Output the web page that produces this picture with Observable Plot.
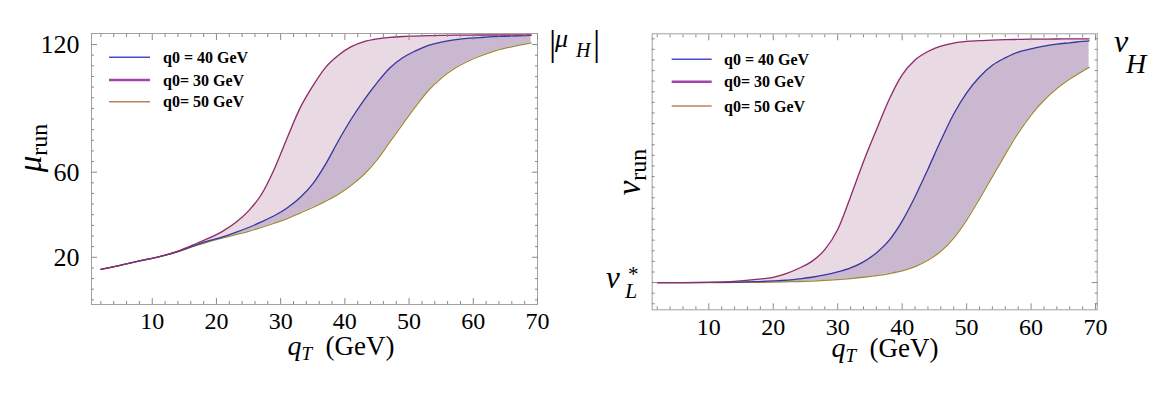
<!DOCTYPE html>
<html>
<head>
<meta charset="utf-8">
<script src="https://cdn.jsdelivr.net/npm/d3@7"></script>
<script src="https://cdn.jsdelivr.net/npm/@observablehq/plot@0.6"></script>
<style>
  body { margin: 0; background: #fff; }
  #wrap { position: relative; width: 1170px; height: 393px; overflow: hidden; }
  #wrap > svg { position: absolute; top: 0; }
  #wrap text { font-family: "Liberation Serif", "Times New Roman", Times, "DejaVu Serif", serif; }
</style>
</head>
<body>
<div id="wrap"></div>
<script>
// ---------- data ----------
// left panel: mu_run vs qT
const qLeft = [2, 5, 8, 11, 14, 17, 19, 21, 23, 25, 27, 29, 31, 33, 35, 37, 39, 41, 43, 45, 47, 49, 51, 53, 55, 57, 59, 61, 63, 65, 67, 69];
const mu30 = [14.3, 16.2, 18.3, 20.2, 22.9, 26.6, 29.2, 32.3, 36.3, 41.8, 49.5, 61.4, 76.0, 90.0, 100.5, 109.3, 115.0, 119.0, 121.4, 122.7, 123.4, 123.8, 124.0, 124.2, 124.3, 124.4, 124.45, 124.5, 124.5, 124.5, 124.5, 124.5];
const mu40 = [14.3, 16.2, 18.3, 20.2, 22.7, 26.0, 27.9, 29.6, 31.7, 34.0, 36.6, 39.5, 43.2, 48.0, 54.5, 63.8, 74.8, 85.0, 94.0, 102.0, 109.0, 113.8, 117.0, 119.6, 121.1, 122.2, 122.9, 123.3, 123.7, 123.9, 124.1, 124.3];
const mu50 = [14.3, 16.2, 18.3, 20.2, 22.6, 25.7, 27.5, 29.1, 30.6, 32.2, 34.0, 36.0, 38.2, 40.8, 43.4, 46.4, 49.7, 53.9, 59.0, 65.8, 74.2, 82.6, 90.8, 98.4, 104.2, 108.6, 111.9, 114.5, 116.7, 118.3, 119.6, 120.8];

// right panel: nu_run vs qT (arbitrary units, nu_L* level = 2)
const qRight = [2, 6, 10, 14, 17, 20, 22, 24, 26, 28, 30, 32, 34, 36, 38, 40, 42, 44, 46, 48, 50, 52, 54, 56, 58, 60, 62, 64, 66, 68, 69];
const nu30 = [2.0, 2.0, 2.02, 2.12, 2.28, 2.5, 2.85, 3.35, 4.0, 5.1, 7.0, 10.1, 13.4, 16.4, 19.3, 21.6, 23.0, 23.8, 24.3, 24.6, 24.75, 24.82, 24.88, 24.92, 24.94, 24.96, 24.97, 24.98, 25.0, 25.0, 25.0];
const nu40 = [2.0, 2.0, 2.01, 2.04, 2.08, 2.15, 2.22, 2.35, 2.5, 2.72, 3.0, 3.38, 3.95, 4.8, 6.0, 7.8, 10.1, 12.7, 15.4, 17.9, 19.9, 21.4, 22.5, 23.2, 23.75, 24.05, 24.3, 24.5, 24.62, 24.75, 24.8];
const nu50 = [2.0, 2.0, 2.0, 2.01, 2.02, 2.04, 2.07, 2.1, 2.14, 2.2, 2.28, 2.38, 2.5, 2.65, 2.85, 3.1, 3.5, 4.1, 4.95, 6.2, 7.9, 9.9, 12.0, 14.1, 16.1, 17.8, 19.2, 20.3, 21.2, 21.95, 22.3];

// ticks and labels
const xMajor = [10, 20, 30, 40, 50, 60, 70];
const xMinor = [2, 4, 6, 8, 12, 14, 16, 18, 22, 24, 26, 28, 32, 34, 36, 38, 42, 44, 46, 48, 52, 54, 56, 58, 62, 64, 66, 68];
const yLeftMajor = [20, 60, 120];
const yLeftMinor = [0, 5, 10, 15, 25, 30, 35, 40, 45, 50, 55, 65, 70, 75, 80, 85, 90, 95, 100, 105, 110, 115];
const yRightMinor = [0, 1, 3, 4, 5, 6, 7, 8, 9, 10, 11, 12, 13, 14, 15, 16, 17, 18, 19, 20, 21, 22, 23, 24, 25];
const yRightMajor = [2];
const legendLabels = ["q0 = 40 GeV", "q0= 30 GeV", "q0= 50 GeV"];
const legendColors = ["#4b4bd2", "#a343a8", "#c17f5e"];
const legendWidths = [1.6, 2.6, 1.6];

// styles
const cLine30 = "#8f2c6c", cLine40 = "#3838a2", cLine50 = "#9b8b3a";
const cFillTop = "#e9d9e3", cFillBot = "#c9b8cf";
const serif = "\"Liberation Serif\", \"Times New Roman\", Times, \"DejaVu Serif\", serif";
const tickColor = "#8a8a8a";

function rowsOf(q, a, b, c) { return q.map((x, i) => ({q: x, a: a[i], b: b[i], c: c[i]})); }

function tickAxes(xMin, xMaj, yMin, yMaj) {
  const common = {label: null, tickFormat: () => "", stroke: tickColor, strokeWidth: 1};
  return [
    Plot.axisX({...common, ticks: xMaj, anchor: "bottom", tickSize: 6, dy: -6}),
    Plot.axisX({...common, ticks: xMin, anchor: "bottom", tickSize: 3, dy: -3}),
    Plot.axisX({...common, ticks: xMaj, anchor: "top", tickSize: 6, dy: 6}),
    Plot.axisX({...common, ticks: xMin, anchor: "top", tickSize: 3, dy: 3}),
    Plot.axisY({...common, ticks: yMaj, anchor: "left", tickSize: 6, dx: 6}),
    Plot.axisY({...common, ticks: yMin, anchor: "left", tickSize: 3, dx: 3}),
    Plot.axisY({...common, ticks: yMaj, anchor: "right", tickSize: 6, dx: -6}),
    Plot.axisY({...common, ticks: yMin, anchor: "right", tickSize: 3, dx: -3})
  ];
}

function curveMarks(rows) {
  const curve = "monotone-x";
  return [
    Plot.areaY(rows, {x: "q", y1: "b", y2: "a", fill: cFillTop, curve}),
    Plot.areaY(rows, {x: "q", y1: "c", y2: "b", fill: cFillBot, curve}),
    Plot.lineY(rows, {x: "q", y: "c", stroke: cLine50, strokeWidth: 1.3, curve}),
    Plot.lineY(rows, {x: "q", y: "b", stroke: cLine40, strokeWidth: 1.3, curve}),
    Plot.lineY(rows, {x: "q", y: "a", stroke: cLine30, strokeWidth: 1.3, curve})
  ];
}

// ---------- left panel ----------
const left = Plot.plot({
  width: 612, height: 393,
  marginTop: 33, marginLeft: 91, marginRight: 75, marginBottom: 89,
  style: {fontFamily: serif, color: "#000", background: "transparent"},
  x: {domain: [0.54, 70]},
  y: {domain: [-2.2, 125.2]},
  marks: [
    ...curveMarks(rowsOf(qLeft, mu30, mu40, mu50)),
    Plot.frame({stroke: "#a0a0a0"}),
    ...tickAxes(xMinor, xMajor, yLeftMinor, yLeftMajor),
    Plot.axisX({ticks: xMajor, anchor: "bottom", tickSize: 0, tickPadding: 7, fontSize: 24, fontFamily: serif, label: null}),
    Plot.axisY({ticks: yLeftMajor, anchor: "left", tickSize: 0, tickPadding: 12, fontSize: 26, fontFamily: serif, label: null})
  ]
});

// ---------- right panel ----------
const right = Plot.plot({
  width: 585, height: 393,
  marginTop: 33.3, marginLeft: 66.7, marginRight: 73.3, marginBottom: 83.7,
  style: {fontFamily: serif, color: "#000", background: "transparent"},
  x: {domain: [1.22, 70.26]},
  y: {domain: [-0.57, 25.47]},
  marks: [
    ...curveMarks(rowsOf(qRight, nu30, nu40, nu50)),
    Plot.frame({stroke: "#a0a0a0"}),
    ...tickAxes(xMinor, xMajor, yRightMinor, yRightMajor),
    Plot.axisX({ticks: xMajor, anchor: "bottom", tickSize: 0, tickPadding: 8, fontSize: 24, fontFamily: serif, label: null})
  ]
});

const wrap = document.getElementById("wrap");
left.style.left = "0px";
right.style.left = "585px";
wrap.appendChild(left);
wrap.appendChild(right);

// ---------- text helpers ----------
function mathText(svg, x, y, parts, opts = {}) {
  const t = d3.select(svg).append("text")
    .attr("x", x).attr("y", y)
    .attr("font-family", serif)
    .attr("fill", "#000")
    .attr("text-anchor", opts.anchor || "start");
  if (opts.rotate) t.attr("transform", `rotate(${opts.rotate},${x},${y})`);
  for (const p of parts) {
    const s = t.append("tspan").text(p.t).attr("font-size", p.size);
    if (p.italic) s.attr("font-style", "italic");
    if (p.x != null) s.attr("x", p.x);
    if (p.y != null) s.attr("y", p.y);
    if (p.dy) s.attr("dy", p.dy);
    if (p.dx) s.attr("dx", p.dx);
  }
  return t;
}

function legend(svg, x0, x1, tx, ys) {
  const g = d3.select(svg).append("g");
  ys.forEach((y, i) => {
    g.append("line").attr("x1", x0).attr("x2", x1).attr("y1", y).attr("y2", y)
      .attr("stroke", legendColors[i]).attr("stroke-width", legendWidths[i]);
    g.append("text").attr("x", tx).attr("y", y).attr("dy", "0.35em")
      .attr("text-anchor", "start")
      .attr("font-family", serif).attr("font-weight", "bold").attr("font-size", 16)
      .attr("fill", "#000").text(legendLabels[i]);
  });
}

// left panel labels
legend(left, 109, 150, 163, [57.3, 80, 101.7]);
mathText(left, 341, 355, [
  {t: "q", size: 28, italic: true},
  {t: "T", size: 19, italic: true, dy: 5},
  {t: "\u2002(GeV)", size: 27, dy: -5}
], {anchor: "middle"});
mathText(left, 41, 148, [
  {t: "\u03BC", size: 33, italic: true},
  {t: "run", size: 24, dy: 6}
], {anchor: "middle", rotate: -90});
// |mu_H|
mathText(left, 549, 55, [
  {t: "|", size: 36},
  {t: "\u03BC", size: 26, italic: true, x: 555, y: 47},
  {t: "H", size: 20, italic: true, x: 576, y: 57},
  {t: "|", size: 36, x: 593, y: 55}
]);

// right panel labels
legend(right, 86.7, 126.7, 139, [59.3, 81.7, 106]);
mathText(right, 300, 357, [
  {t: "q", size: 28, italic: true},
  {t: "T", size: 19, italic: true, dy: 5},
  {t: "\u2002(GeV)", size: 27, dy: -5}
], {anchor: "middle"});
mathText(right, 55, 172, [
  {t: "\u03BD", size: 33, italic: true},
  {t: "run", size: 24, dy: 6}
], {anchor: "middle", rotate: -90});
// nu_L*
mathText(right, 21, 288, [
  {t: "\u03BD", size: 31, italic: true},
  {t: "L", size: 22, italic: true, x: 40, y: 298},
  {t: "*", size: 21, x: 43, y: 281}
]);
// nu_H
mathText(right, 529, 52, [
  {t: "\u03BD", size: 32, italic: true},
  {t: "H", size: 28, italic: true, x: 541, y: 73}
]);
</script>
</body>
</html>
